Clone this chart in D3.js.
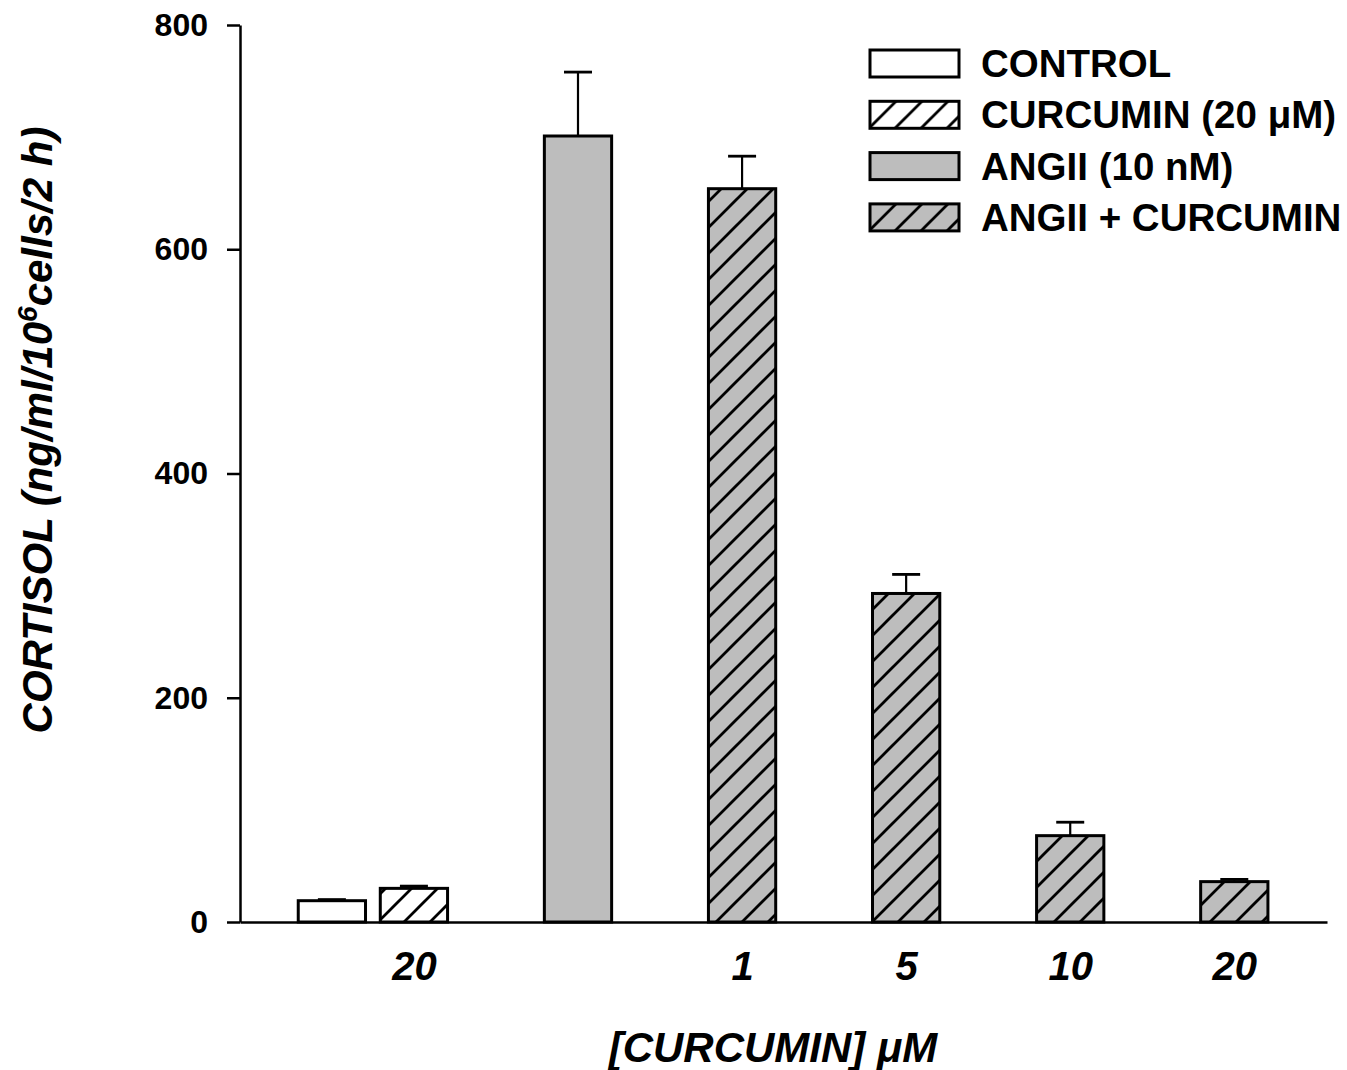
<!DOCTYPE html>
<html>
<head>
<meta charset="utf-8">
<script src="https://cdn.jsdelivr.net/npm/d3@7"></script>
<style>
  body { margin: 0; background: #fff; }
  text { font-family: "Liberation Sans", Arial, sans-serif; font-weight: bold; fill: #000; }
</style>
</head>
<body>
<svg id="chart" width="1347" height="1070"></svg>
<script>
// values
var groups = ["CONTROL", "CURCUMIN (20 \u03BCM)", "ANGII (10 nM)", "ANGII + CURCUMIN"];
var barGroup = [0, 1, 2, 3, 3, 3, 3];
var barSlot = [0, 1, 3, 5, 7, 9, 11];
var cortisol = [19, 30, 701, 654, 293, 77, 36];
var stdErr = [1, 2, 57, 29, 17, 12, 2];
var doseLabels = ["", "20", "", "1", "5", "10", "20"];
var yTicks = [0, 200, 400, 600, 800];

var grey = "#bdbdbd";
var svg = d3.select("#chart");

var x = d3.scaleLinear().domain([-1.12, 12.13]).range([240, 1327]);
var y = d3.scaleLinear().domain([0, 800]).range([922, 25]);
var halfW = 0.41; // bar half width in slot units

// hatch patterns
var defs = svg.append("defs");
function hatch(id, bg) {
  var s = 26;
  var p = defs.append("pattern")
    .attr("id", id)
    .attr("patternUnits", "userSpaceOnUse")
    .attr("width", s).attr("height", s);
  p.append("rect").attr("width", s).attr("height", s).attr("fill", bg);
  p.append("path")
    .attr("d", "M-6,6 L6,-6 M0," + s + " L" + s + ",0 M" + (s - 6) + "," + (s + 6) + " L" + (s + 6) + "," + (s - 6))
    .attr("stroke", "#000").attr("stroke-width", 2.8);
}
hatch("hatchWhite", "#fff");
hatch("hatchGrey", grey);
var fills = ["#fff", "url(#hatchWhite)", grey, "url(#hatchGrey)"];

// bars
var idx = d3.range(cortisol.length);
svg.append("g").selectAll("rect")
  .data(idx)
  .join("rect")
  .attr("x", function(i) { return x(barSlot[i] - halfW); })
  .attr("width", function(i) { return x(barSlot[i] + halfW) - x(barSlot[i] - halfW); })
  .attr("y", function(i) { return y(cortisol[i]); })
  .attr("height", function(i) { return y(0) - y(cortisol[i]); })
  .attr("fill", function(i) { return fills[barGroup[i]]; })
  .attr("stroke", "#000")
  .attr("stroke-width", 3);

// error bars (upper only)
var err = svg.append("g").attr("stroke", "#000");
err.selectAll("line.stem")
  .data(idx)
  .join("line")
  .attr("class", "stem")
  .attr("x1", function(i) { return x(barSlot[i]); })
  .attr("x2", function(i) { return x(barSlot[i]); })
  .attr("y1", function(i) { return y(cortisol[i]); })
  .attr("y2", function(i) { return y(cortisol[i] + stdErr[i]); })
  .attr("stroke-width", 2.2);
err.selectAll("line.cap")
  .data(idx)
  .join("line")
  .attr("class", "cap")
  .attr("x1", function(i) { return x(barSlot[i]) - 14; })
  .attr("x2", function(i) { return x(barSlot[i]) + 14; })
  .attr("y1", function(i) { return y(cortisol[i] + stdErr[i]); })
  .attr("y2", function(i) { return y(cortisol[i] + stdErr[i]); })
  .attr("stroke-width", 2.8);

// y axis
var yAxis = svg.append("g")
  .attr("transform", "translate(240,0)")
  .call(d3.axisLeft(y).tickValues(yTicks).tickSize(13).tickSizeOuter(0).tickPadding(19));
yAxis.selectAll("path, line").attr("stroke", "#000").attr("stroke-width", 2.5);
yAxis.selectAll("text").attr("font-size", 32).attr("font-family", null);

// x axis
var labelled = idx.filter(function(i) { return doseLabels[i] !== ""; });
var xAxis = svg.append("g")
  .attr("transform", "translate(0,922)")
  .call(d3.axisBottom(x)
    .tickValues(labelled.map(function(i) { return barSlot[i]; }))
    .tickFormat(function(d) { return doseLabels[barSlot.indexOf(d)]; })
    .tickSize(0).tickSizeOuter(0).tickPadding(30));
xAxis.selectAll("path").attr("stroke", "#000").attr("stroke-width", 2.5);
xAxis.selectAll("text").attr("font-size", 40).attr("font-style", "italic").attr("font-family", null);

// axis titles
var yt = svg.append("text")
  .attr("transform", "translate(52,430) rotate(-90)")
  .attr("text-anchor", "middle")
  .attr("font-size", 42)
  .attr("font-style", "italic");
yt.append("tspan").text("CORTISOL (ng/ml/10");
yt.append("tspan").attr("dy", -15).attr("font-size", 28).text("6");
yt.append("tspan").attr("dy", 15).text("cells/2 h)");

svg.append("text")
  .attr("x", 773).attr("y", 1062)
  .attr("text-anchor", "middle")
  .attr("font-size", 42)
  .attr("font-style", "italic")
  .text("[CURCUMIN] \u03BCM");

// legend
var leg = svg.append("g").selectAll("g")
  .data(groups)
  .join("g")
  .attr("transform", function(d, i) { return "translate(870," + (50 + i * 51.3) + ")"; });
leg.append("rect")
  .attr("width", 89).attr("height", 27)
  .attr("fill", function(d, i) { return fills[i]; })
  .attr("stroke", "#000").attr("stroke-width", 3);
leg.append("text")
  .attr("x", 111).attr("y", 27)
  .attr("font-size", 38.5)
  .text(function(d) { return d; });
</script>
</body>
</html>
